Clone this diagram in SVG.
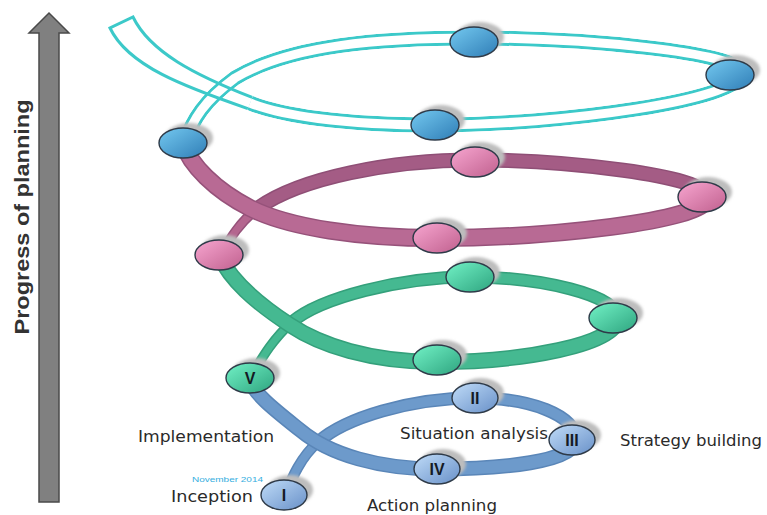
<svg xmlns="http://www.w3.org/2000/svg" xmlns:xlink="http://www.w3.org/1999/xlink" width="767" height="515" viewBox="0 0 767 515">
<style>
.band{fill:none;stroke-linecap:butt;stroke-linejoin:round}
.node{stroke:#2e3a48;stroke-width:1.4}
.shadow{fill:#bdbdbd;filter:url(#blur)}
.num{font-family:"Liberation Sans",Arial,sans-serif;font-weight:bold;font-size:16px;fill:#141a24;text-anchor:middle}
.lbl{font-family:"DejaVu Sans","Liberation Sans",sans-serif;font-size:16px;fill:#2a2a2a}
</style>
<defs>
<filter id="blur" x="-30%" y="-30%" width="160%" height="160%"><feGaussianBlur stdDeviation="1.5"/></filter>
<linearGradient id="gCyan" x1="0" y1="0" x2="1" y2="1"><stop offset="0" stop-color="#74c9f0"/><stop offset="1" stop-color="#2f7db6"/></linearGradient>
<linearGradient id="gPink" x1="0" y1="0" x2="1" y2="1"><stop offset="0" stop-color="#f7a6d0"/><stop offset="1" stop-color="#c0608e"/></linearGradient>
<linearGradient id="gGreen" x1="0" y1="0" x2="1" y2="1"><stop offset="0" stop-color="#72f2c6"/><stop offset="1" stop-color="#2ea47f"/></linearGradient>
<linearGradient id="gBlue" x1="0" y1="0" x2="1" y2="1"><stop offset="0" stop-color="#c0dcf8"/><stop offset="1" stop-color="#6890c8"/></linearGradient>
<path id="CA" d="M 185,143 C 192,120 205,100 235,78 C 290,45 380,38 474,38 C 580,38 742,52 742,73 C 742,100 560,125 435,125 C 340,125 280,115 250,103"/>
<mask id="mA" maskUnits="userSpaceOnUse" x="0" y="0" width="767" height="515">
<use xlink:href="#CA" fill="none" stroke="#fff" stroke-width="15"/>
<use xlink:href="#CA" fill="none" stroke="#000" stroke-width="9"/>
</mask>
</defs>
<rect width="767" height="515" fill="#fff"/>

<g id="axis">
<polygon points="39,502 59,502 59,33 69,33 49,13 29,33 39,33" fill="#808080" stroke="#4a4a4a" stroke-width="1.5"/>
<text transform="translate(29,217) rotate(-90)" font-family="Liberation Sans,Arial,sans-serif" font-weight="bold" font-size="21" fill="#333" text-anchor="middle" textLength="235" lengthAdjust="spacingAndGlyphs">Progress of planning</text>
</g>

<g id="connectors">
<g id="coil-blue">
<path class="band" d="M 284,497 C 292,478 300,458 318,442" stroke="#5a86b8" stroke-width="11"/>
<path class="band" d="M 284,497 C 292,478 300,458 318,442" stroke="#6d9acb" stroke-width="8"/>
<path class="band" d="M 318,442 C 345,418 410,398 475,398 C 530,398 576,415 576,440" stroke="#5a86b8" stroke-width="13"/>
<path class="band" d="M 318,442 C 345,418 410,398 475,398 C 530,398 576,415 576,440" stroke="#6d9acb" stroke-width="10"/>
<path class="band" d="M 576,440 C 576,462 500,469 437,469 C 380,469 330,455 300,430 C 275,410 255,395 248,378" stroke="#5a86b8" stroke-width="15"/>
<path class="band" d="M 576,440 C 576,462 500,469 437,469 C 380,469 330,455 300,430 C 275,410 255,395 248,378" stroke="#6d9acb" stroke-width="12"/>
</g>
<g id="coil-green">
<path class="band" d="M 250,378 C 262,358 272,340 292,322" stroke="#34a07b" stroke-width="10"/>
<path class="band" d="M 250,378 C 262,358 272,340 292,322" stroke="#45b991" stroke-width="7"/>
<path class="band" d="M 292,322 C 320,298 400,277 470,277 C 540,277 618,295 618,318" stroke="#34a07b" stroke-width="13"/>
<path class="band" d="M 292,322 C 320,298 400,277 470,277 C 540,277 618,295 618,318" stroke="#45b991" stroke-width="10"/>
<path class="band" d="M 618,318 C 618,345 520,362 437,362 C 370,362 320,345 290,325 C 255,302 230,280 219,255" stroke="#34a07b" stroke-width="16"/>
<path class="band" d="M 618,318 C 618,345 520,362 437,362 C 370,362 320,345 290,325 C 255,302 230,280 219,255" stroke="#45b991" stroke-width="13"/>
</g>
<g id="coil-pink">
<path class="band" d="M 221,255 C 230,238 240,222 258,208" stroke="#96527a" stroke-width="10"/>
<path class="band" d="M 221,255 C 230,238 240,222 258,208" stroke="#b4668f" stroke-width="7"/>
<path class="band" d="M 258,208 C 300,178 390,160 475,160 C 560,160 708,175 708,197" stroke="#8f4f76" stroke-width="15"/>
<path class="band" d="M 258,208 C 300,178 390,160 475,160 C 560,160 708,175 708,197" stroke="#a45c85" stroke-width="12"/>
<path class="band" d="M 708,197 C 708,222 540,238 437,238 C 360,238 290,228 250,208 C 215,190 190,165 183,143" stroke="#96527a" stroke-width="18"/>
<path class="band" d="M 708,197 C 708,222 540,238 437,238 C 360,238 290,228 250,208 C 215,190 190,165 183,143" stroke="#b86a94" stroke-width="15"/>
</g>
<g id="coil-cyan">
<use xlink:href="#CA" class="band" stroke="#3cc9c9" stroke-width="15" mask="url(#mA)"/>
<path d="M 252.2,97.4 C 195,75 150,52 133,17 L 110,28 C 128,66 185,87 247.8,108.6" fill="none" stroke="#3cc9c9" stroke-width="3" stroke-linejoin="miter"/>
</g>
</g>

<g id="node-c1"><ellipse class="shadow" cx="480" cy="37" rx="24" ry="15"/><ellipse class="node" cx="474" cy="42" rx="24" ry="15" fill="url(#gCyan)"/></g>
<g id="node-c2"><ellipse class="shadow" cx="736" cy="70" rx="24" ry="15"/><ellipse class="node" cx="730" cy="75" rx="24" ry="15" fill="url(#gCyan)"/></g>
<g id="node-c3"><ellipse class="shadow" cx="441" cy="120" rx="24" ry="15"/><ellipse class="node" cx="435" cy="125" rx="24" ry="15" fill="url(#gCyan)"/></g>
<g id="node-c4"><ellipse class="shadow" cx="189" cy="138" rx="24" ry="15"/><ellipse class="node" cx="183" cy="143" rx="24" ry="15" fill="url(#gCyan)"/></g>

<g id="node-p1"><ellipse class="shadow" cx="481" cy="157" rx="24" ry="15"/><ellipse class="node" cx="475" cy="162" rx="24" ry="15" fill="url(#gPink)"/></g>
<g id="node-p2"><ellipse class="shadow" cx="708" cy="192" rx="24" ry="15"/><ellipse class="node" cx="702" cy="197" rx="24" ry="15" fill="url(#gPink)"/></g>
<g id="node-p3"><ellipse class="shadow" cx="443" cy="233" rx="24" ry="15"/><ellipse class="node" cx="437" cy="238" rx="24" ry="15" fill="url(#gPink)"/></g>
<g id="node-p4"><ellipse class="shadow" cx="225" cy="250" rx="24" ry="15"/><ellipse class="node" cx="219" cy="255" rx="24" ry="15" fill="url(#gPink)"/></g>

<g id="node-g1"><ellipse class="shadow" cx="476" cy="272" rx="24" ry="15"/><ellipse class="node" cx="470" cy="277" rx="24" ry="15" fill="url(#gGreen)"/></g>
<g id="node-g2"><ellipse class="shadow" cx="619" cy="313" rx="24" ry="15"/><ellipse class="node" cx="613" cy="318" rx="24" ry="15" fill="url(#gGreen)"/></g>
<g id="node-g3"><ellipse class="shadow" cx="443" cy="355" rx="24" ry="15"/><ellipse class="node" cx="437" cy="360" rx="24" ry="15" fill="url(#gGreen)"/></g>
<g id="node-V"><ellipse class="shadow" cx="256" cy="373" rx="24" ry="15"/><ellipse class="node" cx="250" cy="378" rx="24" ry="15" fill="url(#gGreen)"/><text class="num" x="250" y="384">V</text></g>

<g id="node-II"><ellipse class="shadow" cx="481" cy="393" rx="23" ry="15"/><ellipse class="node" cx="475" cy="398" rx="23" ry="15" fill="url(#gBlue)"/><text class="num" x="475" y="404">II</text></g>
<g id="node-III"><ellipse class="shadow" cx="578" cy="435" rx="23" ry="15"/><ellipse class="node" cx="572" cy="440" rx="23" ry="15" fill="url(#gBlue)"/><text class="num" x="572" y="446">III</text></g>
<g id="node-IV"><ellipse class="shadow" cx="443" cy="464" rx="23" ry="15"/><ellipse class="node" cx="437" cy="469" rx="23" ry="15" fill="url(#gBlue)"/><text class="num" x="437" y="475">IV</text></g>
<g id="node-I"><ellipse class="shadow" cx="290" cy="490" rx="23" ry="15"/><ellipse class="node" cx="284" cy="495" rx="23" ry="15" fill="url(#gBlue)"/><text class="num" x="284" y="501">I</text></g>

<g id="labels">
<text class="lbl" x="138" y="442" textLength="136" lengthAdjust="spacingAndGlyphs">Implementation</text>
<text class="lbl" x="400" y="439" textLength="148" lengthAdjust="spacingAndGlyphs">Situation analysis</text>
<text class="lbl" x="620" y="446" textLength="142" lengthAdjust="spacingAndGlyphs">Strategy building</text>
<text class="lbl" x="367" y="511" textLength="130" lengthAdjust="spacingAndGlyphs">Action planning</text>
<text class="lbl" x="171" y="502" textLength="82" lengthAdjust="spacingAndGlyphs">Inception</text>
<text x="192" y="482" font-family="Liberation Sans,Arial,sans-serif" font-size="7" fill="#35aee0" textLength="71" lengthAdjust="spacingAndGlyphs">November 2014</text>
</g>
</svg>
